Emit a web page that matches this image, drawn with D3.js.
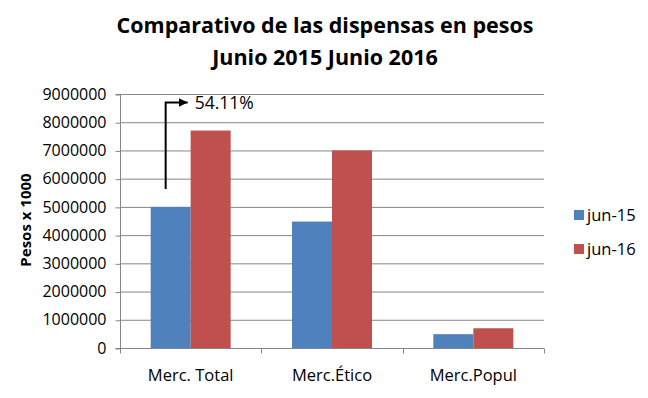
<!DOCTYPE html>
<html>
<head>
<meta charset="utf-8">
<script src="https://cdn.jsdelivr.net/npm/d3@7"></script>
<style>
  body { margin: 0; background: #fff; }
  text { font-family: "Open Sans", "Liberation Sans", sans-serif; }
</style>
</head>
<body>
<div id="chart"></div>
<script>
var categories = ["Merc. Total", "Merc.Ético", "Merc.Popul"];
var seriesNames = ["jun-15", "jun-16"];
var jun15 = [5000000, 4480000, 490000];
var jun16 = [7705500, 7000000, 700000];
var yTicks = [0, 1000000, 2000000, 3000000, 4000000, 5000000, 6000000, 7000000, 8000000, 9000000];
var colors = ["#4F81BD", "#C0504D"];
var growthLabel = "54.11%";

var margin = {top: 94, left: 120};
var width = 424, height = 254;

var svg = d3.select("#chart").append("svg")
  .attr("width", 648).attr("height", 398);

// title
var title = svg.append("text")
  .attr("x", 325).attr("text-anchor", "middle")
  .attr("font-weight", "bold").attr("font-size", 21.5).attr("fill", "#000");
title.append("tspan").attr("x", 325).attr("y", 33).text("Comparativo de las dispensas en pesos");
title.append("tspan").attr("x", 325).attr("y", 65).text("Junio 2015 Junio 2016");

var g = svg.append("g")
  .attr("transform", "translate(" + margin.left + "," + margin.top + ")");

var x = d3.scaleBand().domain(categories).range([0, width]);
var x1 = d3.scaleBand().domain(seriesNames).range([0, 80]);
var y = d3.scaleLinear().domain([0, 9000000]).range([height, 0]);

// gridlines
g.selectAll(".grid").data(yTicks.slice(1)).enter().append("line")
  .attr("x1", 0).attr("x2", width)
  .attr("y1", function(d) { return y(d) + 0.5; })
  .attr("y2", function(d) { return y(d) + 0.5; })
  .attr("stroke", "#868686").attr("stroke-width", 1);

// bars
var data = [jun15, jun16];
seriesNames.forEach(function(s, i) {
  g.selectAll(".bar" + i).data(categories).enter().append("rect")
    .attr("x", function(d) { return x(d) + (x.bandwidth() - 80) / 2 + x1(s); })
    .attr("width", x1.bandwidth())
    .attr("y", function(d, j) { return y(data[i][j]); })
    .attr("height", function(d, j) { return height - y(data[i][j]); })
    .attr("fill", colors[i]);
});

// y axis
var yAxis = g.append("g").attr("transform", "translate(0.5,0)")
  .call(d3.axisLeft(y).tickValues(yTicks).tickSize(5).tickPadding(9).tickFormat(d3.format("d")));
yAxis.select(".domain").attr("stroke", "#868686").attr("d", "M-5,0.5H0V" + (height + 0.5) + "H-5");
yAxis.selectAll(".tick line").attr("stroke", "#868686").attr("transform", "translate(0,0.5)");
yAxis.selectAll(".tick text").attr("font-size", 16).attr("fill", "#000")
  .attr("font-family", "Open Sans, sans-serif");

// x axis
var xAxis = g.append("g").attr("transform", "translate(0," + (height + 0.5) + ")");
xAxis.append("line").attr("x1", 0).attr("x2", width).attr("stroke", "#868686");
xAxis.selectAll(".xt").data(categories.concat(["end"])).enter().append("line")
  .attr("x1", function(d, i) { return Math.round(i * x.step()) + 0.5; })
  .attr("x2", function(d, i) { return Math.round(i * x.step()) + 0.5; })
  .attr("y1", 0).attr("y2", 5).attr("stroke", "#868686");
xAxis.selectAll(".xl").data(categories).enter().append("text")
  .attr("x", function(d) { return x(d) + x.bandwidth() / 2; })
  .attr("y", 32).attr("text-anchor", "middle")
  .attr("font-size", 16.5).attr("fill", "#000").text(function(d) { return d; });

// y label
svg.append("text")
  .attr("transform", "translate(31,220) rotate(-90)")
  .attr("text-anchor", "middle").attr("font-weight", "bold")
  .attr("font-size", 15).attr("fill", "#000").text("Pesos x 1000");

// growth annotation
var ax = x(categories[0]) + (x.bandwidth() - 80) / 2 + 15;
svg.append("defs").append("marker")
  .attr("id", "arrow").attr("viewBox", "0 0 10 10")
  .attr("refX", 10).attr("refY", 5)
  .attr("markerWidth", 4.5).attr("markerHeight", 4.5)
  .attr("markerUnits", "strokeWidth").attr("orient", "auto")
  .append("path").attr("d", "M0,0L10,5L0,10Z").attr("fill", "#000");
g.append("path")
  .attr("d", "M" + ax + "," + (y(jun15[0]) - 18) + "V" + (y(9000000) + 8.5) + "H" + (ax + 22))
  .attr("fill", "none").attr("stroke", "#000").attr("stroke-width", 2)
  .attr("marker-end", "url(#arrow)");
g.append("text")
  .attr("x", ax + 29).attr("y", y(9000000) + 14.5)
  .attr("font-size", 17.5).attr("fill", "#000").text(growthLabel);

// legend
var leg = svg.append("g").attr("transform", "translate(574,210)");
seriesNames.forEach(function(s, i) {
  leg.append("rect").attr("x", 0).attr("y", i * 34).attr("width", 10).attr("height", 10).attr("fill", colors[i]);
  leg.append("text").attr("x", 13).attr("y", i * 34 + 10.5)
    .attr("font-size", 16.5).attr("fill", "#000").text(s);
});
</script>
</body>
</html>
